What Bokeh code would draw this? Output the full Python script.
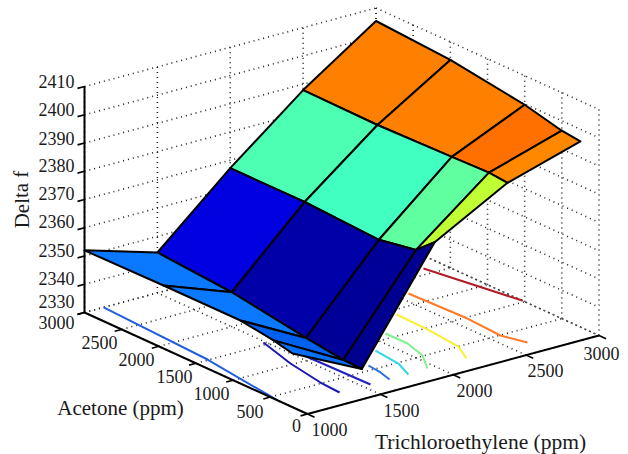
from bokeh.plotting import figure
from bokeh.models import ColumnDataSource
from bokeh.core.properties import value
from bokeh.embed import file_html
from bokeh.resources import INLINE

# ---- data ----
tri_rows = [3000, 2500, 2000, 1500, 1000]
acetone_rows = [
    [3000, 2000, 1000, 500, 250],
    [3000, 2000, 1000, 500, 250],
    [3000, 2000, 1000, 500, 250],
    [3000, 2000, 1000, 500, 250],
    [3000, 1937, 901, 457, 202],
]
delta_f = [
    [2405.4, 2403.6, 2399.7, 2396.5, 2395.7],
    [2387.9, 2387.5, 2388.2, 2388.6, 2388.0],
    [2367.2, 2367.2, 2365.8, 2368.2, 2373.9],
    [2344.3, 2342.2, 2338.0, 2336.2, 2336.0],
    [2352.0, 2352.3, 2352.3, 2350.6, 2349.0],
]
face_colors = [
    ["#ff8000", "#ff8000", "#ff7000", "#ff8800"],
    ["#4dffb2", "#40ffc0", "#60ffa0", "#c0ff33"],
    ["#0000e0", "#0000a8", "#000098", "#000090"],
    ["#0a78ff", "#0a78ff", "#0060f0", "#0870f8"],
]
# contour lines on the floor: (trichloroethylene, acetone) pairs
contour_tri = [
    [2878, 3000],
    [2576, 2594, 2575, 2625],
    [2326, 2319, 2290, 2211],
    [2098, 2099, 2050, 1948],
    [1894, 1870, 1809],
    [1722, 1708, 1681],
    [1533, 1543, 1551],
    [1487, 1405, 1354, 1342],
    [1130, 1085, 1000],
]
contour_ace = [
    [2122, 1033],
    [1733, 973, 493, 228],
    [1403, 998, 498, 236],
    [1105, 809, 511, 245],
    [839, 483, 229],
    [596, 406, 231],
    [1407, 863, 233],
    [1548, 1023, 520, 239],
    [2998, 1512, 401],
]
contour_colors = ["#b01c28", "#ff7a28", "#ffee30", "#80f090", "#30d8e8",
                  "#2a70e0", "#2020c0", "#1a1ab0", "#2060e0"]
z_ticks = [2330, 2340, 2350, 2360, 2370, 2380, 2390, 2400, 2410]
ace_ticks = [0, 500, 1000, 1500, 2000, 2500, 3000]
tri_ticks = [1000, 1500, 2000, 2500, 3000]
z_title = "Delta f"
ace_title = "Acetone (ppm)"
tri_title = "Trichloroethylene (ppm)"

# ---- view: orthographic projection of the MATLAB-like axes box ----
X0, Y0 = 307.0, 413.5
def px(t, a):
    return X0 + (t - 1000) * 0.14575 - a * 0.07433
def py(t, a, z):
    return Y0 - (t - 1000) * 0.03925 - a * 0.03383 - (z - 2330) * 2.825

p = figure(width=628, height=454, x_range=(0, 628), y_range=(454, 0),
           x_axis_type=None, y_axis_type=None, output_backend="svg",
           toolbar_location=None, min_border=0, outline_line_color=None)
p.grid.visible = False
p.background_fill_color = "white"

def seg(t0, a0, z0, t1, a1, z1):
    return ([px(t0, a0), px(t1, a1)], [py(t0, a0, z0), py(t1, a1, z1)])

# grid
gx, gy = [], []
zmin, zmax = z_ticks[0], z_ticks[-1]
amax, tmin, tmax = ace_ticks[-1], tri_ticks[0], tri_ticks[-1]
for z in z_ticks:
    for s in (seg(tmin, amax, z, tmax, amax, z), seg(tmax, amax, z, tmax, 0, z)):
        gx.append(s[0]); gy.append(s[1])
for t in tri_ticks:
    for s in (seg(t, amax, zmin, t, amax, zmax), seg(t, 0, zmin, t, amax, zmin)):
        gx.append(s[0]); gy.append(s[1])
for a in ace_ticks:
    for s in (seg(tmax, a, zmin, tmax, a, zmax), seg(tmin, a, zmin, tmax, a, zmin)):
        gx.append(s[0]); gy.append(s[1])
p.multi_line(gx, gy, line_color="#222222", line_width=1.6, line_dash="1 4")

# floor contours
for ts, acs, c in zip(contour_tri, contour_ace, contour_colors):
    p.line([px(t, a) for t, a in zip(ts, acs)],
           [py(t, a, zmin) for t, a in zip(ts, acs)],
           line_color=c, line_width=2, line_join="round")

# surface faces, far to near
for i in range(len(tri_rows) - 1):
    for j in range(len(acetone_rows[0]) - 1):
        idx = [(i, j), (i, j + 1), (i + 1, j + 1), (i + 1, j)]
        xs = [px(tri_rows[r], acetone_rows[r][c]) for r, c in idx]
        ys = [py(tri_rows[r], acetone_rows[r][c], delta_f[r][c]) for r, c in idx]
        p.patch(xs, ys, fill_color=face_colors[i][j], line_color="black",
                line_width=2, line_join="round")

# axes
ax, ay = [], []
for s in (seg(tmin, amax, zmin, tmin, amax, zmax),
          seg(tmin, 0, zmin, tmin, amax, zmin),
          seg(tmin, 0, zmin, tmax, 0, zmin)):
    ax.append(s[0]); ay.append(s[1])
p.multi_line(ax, ay, line_color="black", line_width=2)

tx, ty = [], []
for z in z_ticks:
    s = seg(tmin, amax, z, tmin - 48, amax, z)
    tx.append(s[0]); ty.append(s[1])
for a in ace_ticks:
    s = seg(tmin, a, zmin, tmin - 48, a, zmin)
    tx.append(s[0]); ty.append(s[1])
for t in tri_ticks:
    s = seg(t, 0, zmin, t, -95, zmin)
    tx.append(s[0]); ty.append(s[1])
p.multi_line(tx, ty, line_color="black", line_width=1.6)

# tick labels (pixel offsets from each tick)
z_dy = [-11, -6, -6, -6, -6, -6, -5, -5, -5]
ace_off = [(-11, 11.5), (-20.3, 14.4), (-21.7, 13.3), (-21.5, 13.2), (-22.3, 13.2), (-22.2, 13.1), (-28, 10)]
tri_off = [(22, 15.5), (21, 16), (21.25, 15.75), (19.4, 15), (2.5, 18)]
lx, ly, lt = [], [], []
for z, dy in zip(z_ticks, z_dy):
    lx.append(px(tmin, amax) - 28); ly.append(py(tmin, amax, z) + dy); lt.append(str(z))
for a, (dx, dy) in zip(ace_ticks, ace_off):
    lx.append(px(tmin, a) + dx); ly.append(py(tmin, a, zmin) + dy); lt.append(str(a))
for t, (dx, dy) in zip(tri_ticks, tri_off):
    lx.append(px(t, 0) + dx); ly.append(py(t, 0, zmin) + dy); lt.append(str(t))
src = ColumnDataSource(dict(x=lx, y=ly, t=lt))
p.text("x", "y", text="t", source=src, text_font=value("Liberation Serif"),
       text_font_size="18px", text_color="#1a1a1a", text_align="center",
       text_baseline="middle")

# axis titles
p.text([21], [199], text=[z_title], angle=[1.5708], angle_units="rad",
       text_font=value("Liberation Serif"), text_font_size="21px",
       text_color="#1a1a1a", text_align="center", text_baseline="middle")
p.text([120], [407], text=[ace_title], text_font=value("Liberation Serif"),
       text_font_size="21px", text_color="#1a1a1a", text_align="center",
       text_baseline="middle")
p.text([480], [441], text=[tri_title], text_font=value("Liberation Serif"),
       text_font_size="21.5px", text_color="#1a1a1a", text_align="center",
       text_baseline="middle")

open("out.html", "w").write(file_html(p, INLINE))
